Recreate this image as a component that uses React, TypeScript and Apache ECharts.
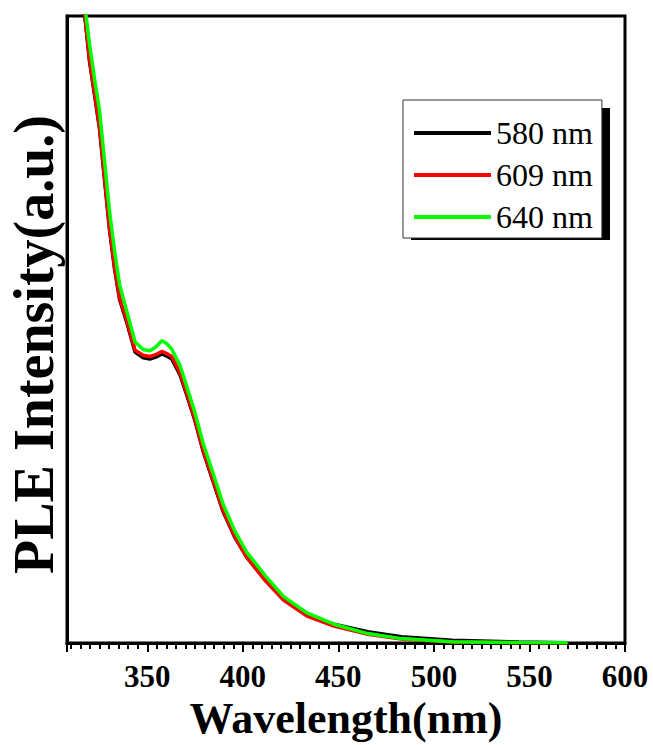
import React, { useEffect, useRef } from "react";
import * as echarts from "echarts";

const wavelengths = [316, 317.4, 319.8, 322.4, 325, 327.6, 330.2, 332.9, 335.5, 339.2, 343.6, 347.9, 351.4, 354.5, 357.6, 360, 362.8, 367.1, 370.6, 375, 379.2, 384.4, 389.6, 395.9, 402, 411.6, 421.4, 433.6, 447.7, 465.4, 483, 509.5, 544.5, 570];

const s580 = [102.2, 99.7, 92.7, 87.4, 82.0, 74.0, 66.0, 59.6, 54.8, 51.2, 46.4, 45.5, 45.3, 45.6, 46.1, 45.8, 45.3, 42.8, 39.6, 35.4, 30.6, 25.8, 21.0, 16.8, 13.7, 10.1, 7.0, 4.5, 3.0, 1.8, 1.0, 0.45, 0.15, 0.03];
const s609 = [102.5, 100, 93.0, 87.7, 82.3, 74.3, 66.3, 59.9, 55.1, 51.5, 46.7, 45.9, 45.7, 46.0, 46.5, 46.2, 45.7, 43.1, 39.9, 35.6, 30.8, 26.0, 21.2, 16.9, 13.7, 10.0, 6.8, 4.3, 2.7, 1.4, 0.64, 0.16, 0.05, 0.02];
const s640 = [104, 101.5, 95.5, 90.0, 85.0, 77.0, 69.0, 62.5, 57.2, 53.0, 48.0, 46.8, 46.6, 47.2, 48.2, 47.8, 46.9, 44.3, 41.0, 36.7, 31.9, 27.1, 22.2, 17.8, 14.5, 10.8, 7.4, 4.8, 3.0, 1.5, 0.7, 0.2, 0.06, 0.02];

const seriesNames = ["580 nm", "609 nm", "640 nm"];
const seriesColors = ["#000000", "#ff0000", "#00ff00"];
const seriesValues = [s580, s609, s640];

const xMin = 308;
const xMax = 600;
const serif = "'Liberation Serif', 'Times New Roman', serif";

export default function App() {
  const ref = useRef<HTMLDivElement>(null);
  useEffect(() => {
    if (!ref.current) return;
    const chart = echarts.init(ref.current, undefined, { renderer: "svg" });
    chart.setOption({
      animation: false,
      backgroundColor: "#ffffff",
      grid: {
        left: 67,
        right: 28,
        top: 16,
        bottom: 102,
        containLabel: false,
        outerBoundsMode: "none",
        show: true,
        borderColor: "#000",
        borderWidth: 3,
        backgroundColor: "transparent",
      },
      xAxis: [
        {
          type: "value",
          min: xMin,
          max: xMax,
          splitNumber: 6,
          minInterval: 50,
          maxInterval: 50,
          position: "bottom",
          name: "Wavelength(nm)",
          nameLocation: "middle",
          nameGap: 55,
          nameMoveOverlap: false,
          nameTextStyle: { fontFamily: serif, fontWeight: "bold", fontSize: 44, lineHeight: 40, color: "#000" },
          axisLine: { show: true, lineStyle: { color: "#000", width: 3 } },
          axisTick: { show: true, length: 9, lineStyle: { color: "#000", width: 2 } },
          axisLabel: {
            show: true,
            margin: 20,
            fontFamily: serif,
            fontWeight: "bold",
            fontSize: 31,
            lineHeight: 27,
            color: "#000",
            formatter: (v: number) => (v % 50 === 0 ? String(v) : ""),
          },
          splitLine: { show: false },
        },
        {
          type: "value",
          min: xMin,
          max: xMax,
          splitNumber: 58,
          minInterval: 5,
          maxInterval: 5,
          position: "bottom",
          axisLine: { show: false },
          axisTick: { show: true, length: 6, lineStyle: { color: "#000", width: 2 } },
          axisLabel: { show: false },
          splitLine: { show: false },
        },
      ],
      yAxis: {
        type: "value",
        min: 0,
        max: 100,
        name: "PLE Intensity(a.u.)",
        nameLocation: "middle",
        nameGap: 10,
        nameMoveOverlap: false,
        nameTextStyle: {
          fontFamily: serif,
          fontWeight: "bold",
          fontSize: 56,
          lineHeight: 46,
          color: "#000",
          padding: [0, 30, 0, 0],
        },
        axisLine: { show: true, lineStyle: { color: "#000", width: 3 } },
        axisTick: { show: false },
        axisLabel: { show: false },
        splitLine: { show: false },
      },
      legend: {
        show: true,
        orient: "vertical",
        left: 403,
        top: 100,
        z: 10,
        icon: "rect",
        itemWidth: 77,
        itemHeight: 4,
        itemGap: 10,
        padding: [17, 9, 5, 11],
        backgroundColor: "#ffffff",
        borderColor: "#333",
        borderWidth: 1,
        textStyle: { fontFamily: serif, fontSize: 32, lineHeight: 30, color: "#000" },
        data: seriesNames,
      },
      graphic: [
        {
          type: "rect",
          z: 1,
          shape: { x: 411, y: 108, width: 199, height: 132 },
          style: { fill: "#000" },
        },
      ],
      series: seriesNames.map((name, i) => ({
        name,
        type: "line",
        xAxisIndex: 0,
        yAxisIndex: 0,
        showSymbol: false,
        symbol: "none",
        clip: true,
        z: 2 + i,
        itemStyle: { color: seriesColors[i] },
        lineStyle: { color: seriesColors[i], width: 3.5 },
        data: wavelengths.map((w, j) => [w, seriesValues[i][j]]),
      })),
    });
    return () => chart.dispose();
  }, []);
  return (
    <div
      ref={ref}
      style={{ position: "fixed", left: 0, top: 0, width: 653, height: 745, background: "#fff" }}
    />
  );
}
